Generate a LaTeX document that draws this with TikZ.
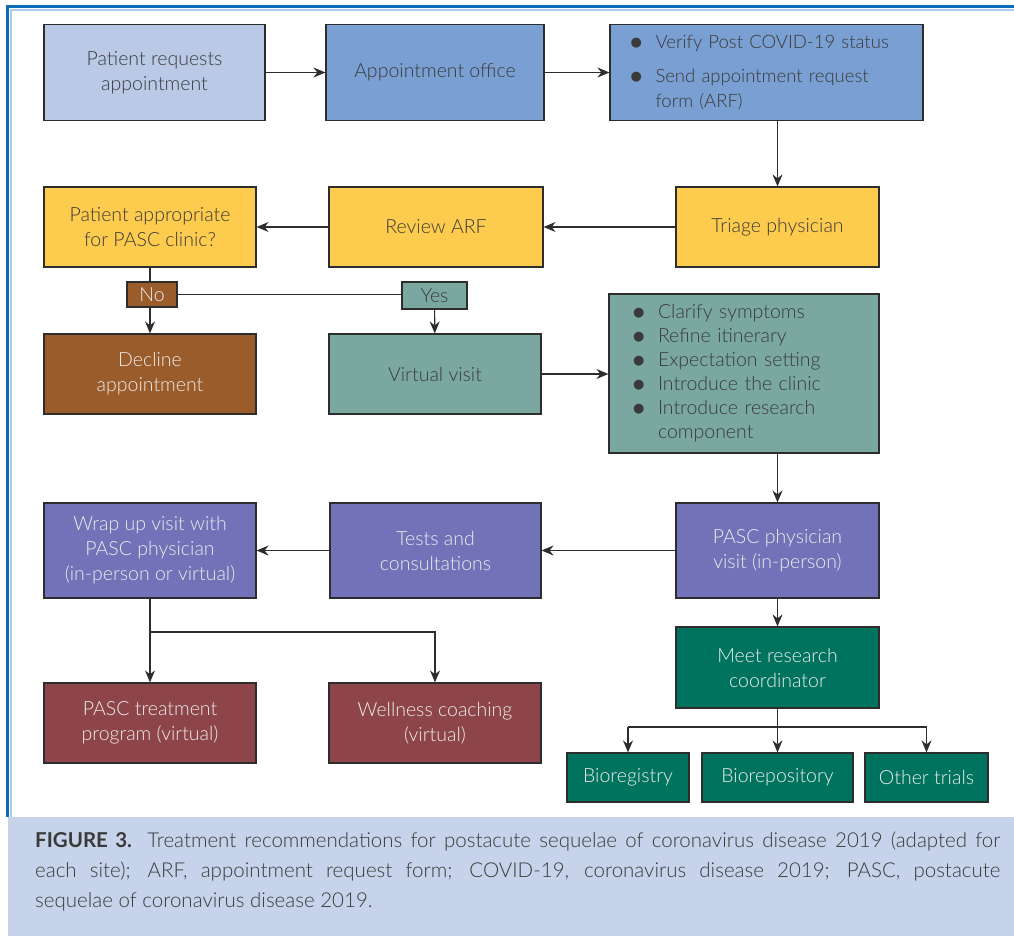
\documentclass[tikz,border=0pt]{standalone}
\usepackage{fontspec}
\setmainfont{Lato}[UprightFont=* Light, BoldFont=* Bold]
\newfontfamily\symfont{DejaVu Sans}
\usepackage{tikz}
\usetikzlibrary{arrows.meta,calc,positioning}
\definecolor{reqblue}{RGB}{185,201,230}
\definecolor{offblue}{RGB}{122,159,210}
\definecolor{triyellow}{RGB}{253,204,79}
\definecolor{nobrown}{RGB}{155,92,44}
\definecolor{yesteal}{RGB}{122,168,161}
\definecolor{pascpurple}{RGB}{113,114,183}
\definecolor{resgreen}{RGB}{0,115,95}
\definecolor{treatred}{RGB}{142,69,74}
\definecolor{capbg}{RGB}{199,211,234}
\definecolor{framedark}{RGB}{11,108,184}
\definecolor{framelight}{RGB}{170,203,234}
\definecolor{edgegray}{RGB}{45,45,45}
\definecolor{textgray}{RGB}{58,58,58}
\newcommand{\bul}{\makebox[25pt][l]{\raisebox{2pt}{\symfont\fontsize{13}{13}\selectfont ●}}}

\begin{document}
\begin{tikzpicture}[x=1pt,y=-1pt,
  box/.style={draw=edgegray, line width=1.2pt, align=center, inner sep=2pt,
    font=\fontsize{19.5}{25}\selectfont, text=textgray},
  size/.style 2 args={minimum width=#1, minimum height=#2},
  darkbox/.style={box, text=white!93!black},
  listbox/.style={box, align=left, inner xsep=0pt},
  tag/.style={box, inner sep=0pt, font=\fontsize{19.5}{20}\selectfont},
  link/.style={draw=edgegray, line width=1.2pt},
  arr/.style={link, -{Stealth[length=12pt,width=10pt,inset=4pt]}}]
\useasboundingbox (0,0) rectangle (1014,936);

% frame and caption
\fill[capbg] (8,817) rectangle (1014,936);
\draw[framelight, line width=2pt] (10.5,817) |- (1014,10.5);
\draw[framedark, line width=3pt] (7.5,817) |- (1014,7);
\node[anchor=north west, text width=965pt, align=justify, inner sep=0pt,
  font=\fontsize{20.5}{30}\selectfont, text=textgray] (cap) at (35,832)
  {\textbf{FIGURE 3.} Treatment recommendations for postacute sequelae of coronavirus disease 2019 (adapted for\linebreak
  each site); ARF, appointment request form; COVID-19, coronavirus disease 2019; PASC, postacute\linebreak
  sequelae of coronavirus disease 2019.};

% first row
\node[box, fill=reqblue, size={221}{96}] (req) at (154.5,72.5) {Patient requests\\appointment};
\node[box, fill=offblue, size={218}{96}] (office) at (435,72.5) {Appointment office};
\node[listbox, fill=offblue, size={313}{96}, text width=272pt, font=\fontsize{18.5}{25}\selectfont] (verify) at (766.5,72.5)
  {\bul \mbox{Verify Post COVID-19 status}\\[9pt]\bul Send appointment request\\\hspace*{25pt}form (ARF)};

% triage row
\node[box, fill=triyellow, size={203}{80}] (triage) at (777.5,227) {Triage physician};
\node[box, fill=triyellow, size={214}{80}] (review) at (436,227) {Review ARF};
\node[box, fill=triyellow, size={212}{80}] (approp) at (150,227) {Patient appropriate\\for PASC clinic?};
\node[tag, fill=nobrown, text=white!93!black, size={50}{25}] (no) at (152,294.5) {No};
\node[tag, fill=yesteal, size={65}{27}] (yes) at (434.5,295.5) {Yes};

% virtual visit row
\node[darkbox, fill=nobrown, size={212}{80}] (decline) at (150,374) {Decline\\appointment};
\node[box, fill=yesteal, size={212}{80}] (virtual) at (435,374) {Virtual visit};
\node[listbox, fill=yesteal, size={270}{159}, text width=222pt, font=\fontsize{19.5}{24}\selectfont] (clarify) at (744,373.5)
  {\bul Clarify symptoms\\\bul Refine itinerary\\\bul Expectation setting\\\bul Introduce the clinic\\\bul Introduce research\\\hspace*{25pt}component};

% physician row
\node[darkbox, fill=pascpurple, size={203}{95}] (pasc) at (777.5,550.5) {PASC physician\\visit (in-person)};
\node[darkbox, fill=pascpurple, size={211}{95}] (tests) at (435.5,550.5) {Tests and\\consultations};
\node[darkbox, fill=pascpurple, size={212}{95}] (wrap) at (150,550.5) {Wrap up visit with\\PASC physician\\(in-person or virtual)};

% research and treatment
\node[darkbox, fill=resgreen, size={203}{81}] (meet) at (777.5,667.5) {Meet research\\coordinator};
\node[darkbox, fill=resgreen, size={122}{49}] (biorg) at (628,777.5) {Bioregistry};
\node[darkbox, fill=resgreen, size={151}{49}] (biorep) at (777.5,777.5) {Biorepository};
\node[darkbox, fill=resgreen, size={123}{49}] (other) at (926.5,777.5) {Other trials};
\node[darkbox, fill=treatred, size={212}{80}] (treat) at (150,723) {PASC treatment\\program (virtual)};
\node[darkbox, fill=treatred, size={212}{80}] (well) at (435,723) {Wellness coaching\\(virtual)};

\coordinate (split) at (777.5,727);
\coordinate (fork) at (150,632);

% connectors
\draw[arr] (req) -- (office);
\draw[arr] (office) -- (verify);
\draw[arr] (verify.south -| triage.north) -- (triage.north);
\draw[arr] (triage) -- (review);
\draw[arr] (review) -- (approp);
\draw[link] (approp.south) -- (approp.south |- no.north);
\draw[arr] (approp.south |- no.south) -- (decline.north);
\draw[link] (no) -- (no -| yes.west);
\draw[arr] (yes) -- (virtual);
\draw[arr] (virtual) -- (virtual -| clarify.west);
\draw[arr] (clarify.south -| pasc.north) -- (pasc.north);
\draw[arr] (pasc) -- (tests);
\draw[arr] (tests) -- (wrap);
\draw[arr] (pasc) -- (meet);
\draw[link] (meet.south) -- (split);
\draw[link] (split -| biorg.north) -- (split -| other.north);
\draw[arr] (split -| biorg.north) -- (biorg.north);
\draw[arr] (split) -- (biorep.north);
\draw[arr] (split -| other.north) -- (other.north);
\draw[link] (wrap.south) -- (fork);
\draw[arr] (fork) -- (treat.north);
\draw[arr] (fork) -| (well.north);
\end{tikzpicture}
\end{document}
